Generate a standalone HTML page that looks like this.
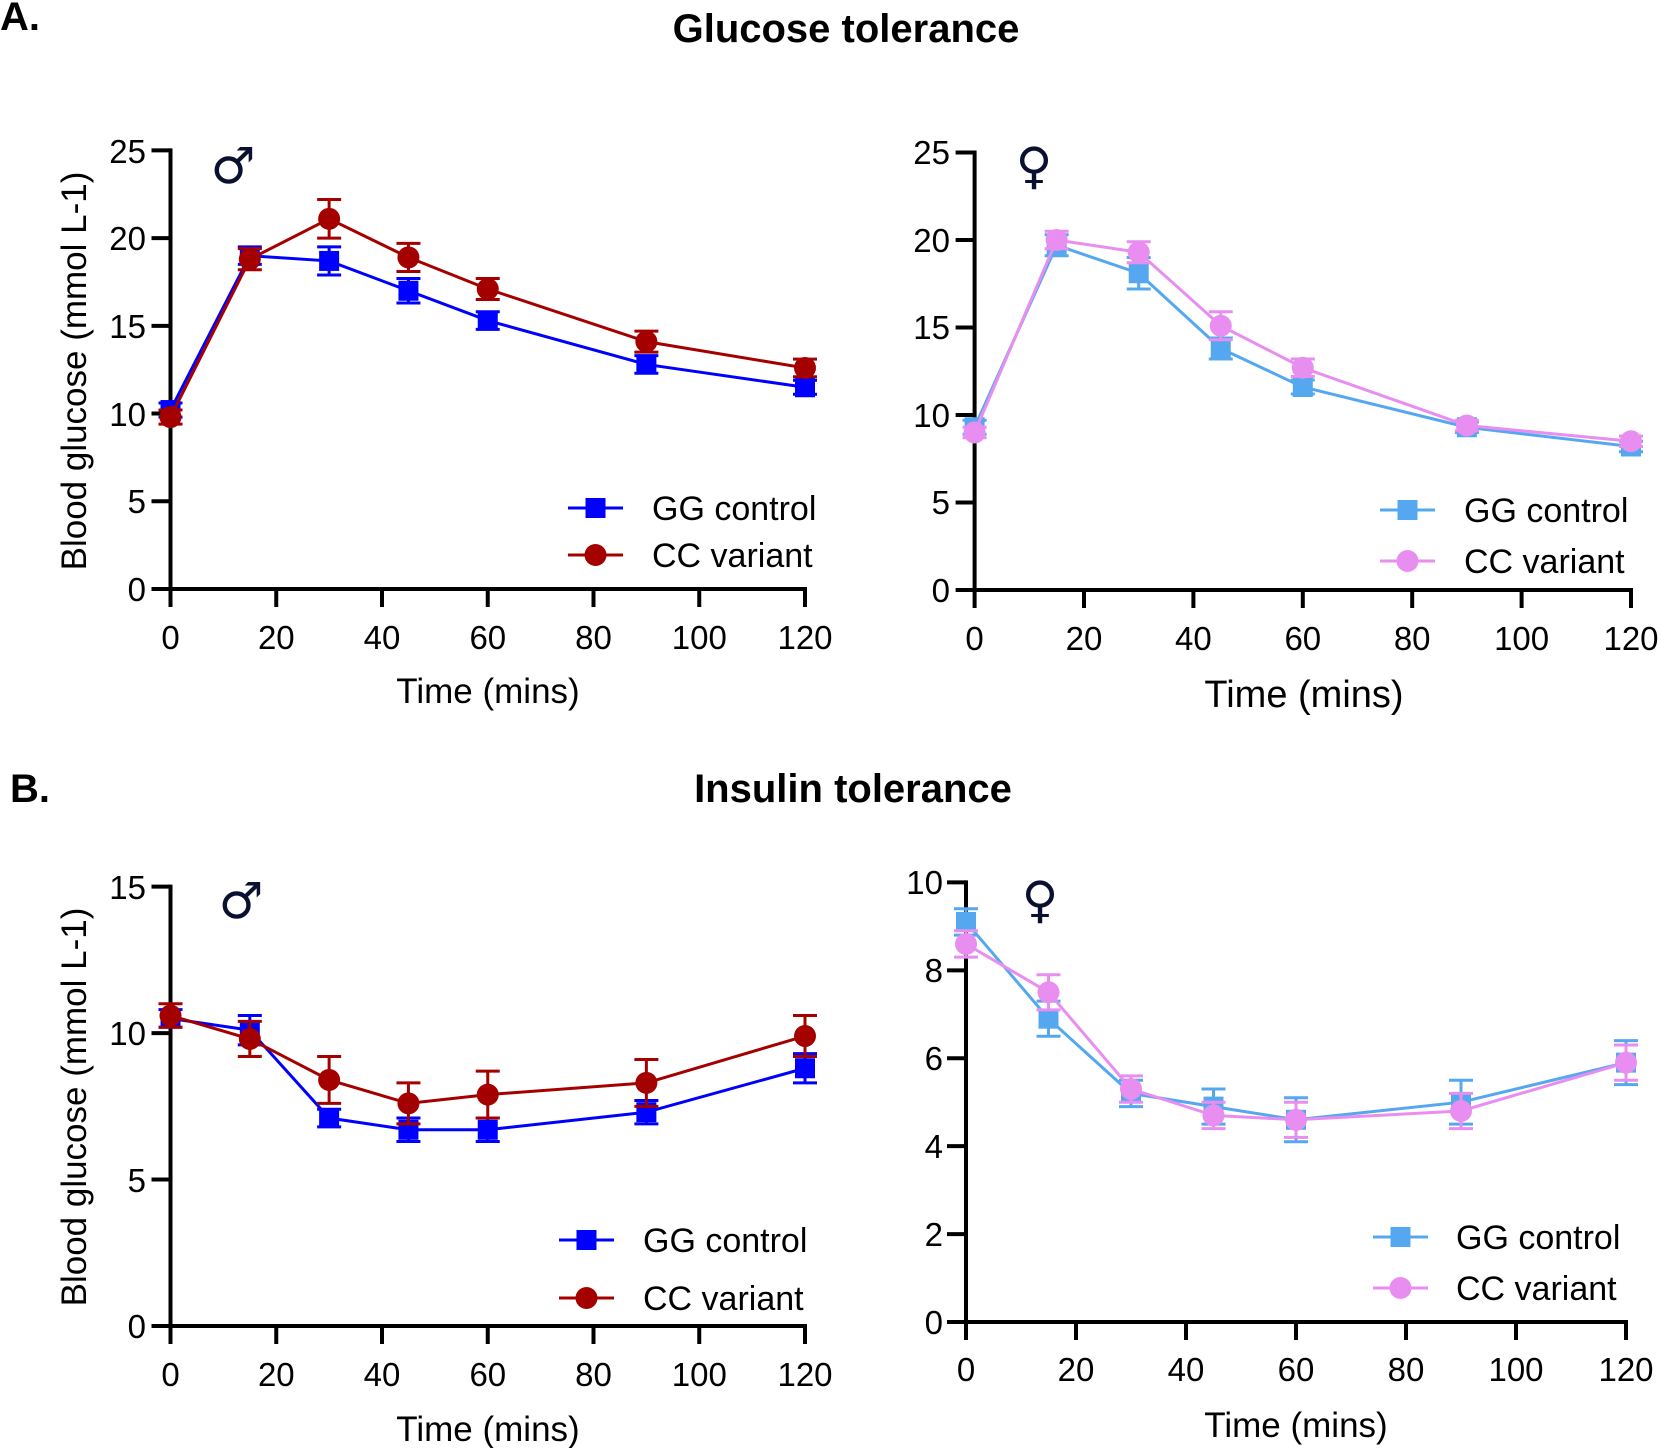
<!DOCTYPE html>
<html><head><meta charset="utf-8"><style>
html,body{margin:0;padding:0;background:#fff}
svg{display:block}
text{font-family:"Liberation Sans","DejaVu Sans",sans-serif;fill:#000}
.t{font-size:33px}
.ax{font-size:35px}
.lg{font-size:34px}
.h{font-size:40px;font-weight:bold}
</style></head><body>
<svg id="s" width="1661" height="1448" viewBox="0 0 1661 1448" xmlns="http://www.w3.org/2000/svg">
<text class="h" x="0" y="30">A.</text>
<text class="h" x="846" y="42" text-anchor="middle">Glucose tolerance</text>
<text class="h" x="10" y="802">B.</text>
<text class="h" x="853" y="802" text-anchor="middle">Insulin tolerance</text>

<text x="233" y="183" font-size="50" text-anchor="middle" style="fill:#0a1030;font-family:'DejaVu Sans',sans-serif">♂</text>
<text x="1034" y="183" font-size="50" text-anchor="middle" style="fill:#0a1030;font-family:'DejaVu Sans',sans-serif">♀</text>
<text x="241" y="918" font-size="50" text-anchor="middle" style="fill:#0a1030;font-family:'DejaVu Sans',sans-serif">♂</text>
<text x="1040" y="917" font-size="50" text-anchor="middle" style="fill:#0a1030;font-family:'DejaVu Sans',sans-serif">♀</text>

<g class="t" text-anchor="end">
<text x="146" y="601">0</text><text x="146" y="513">5</text><text x="146" y="426">10</text><text x="146" y="338">15</text><text x="146" y="250">20</text><text x="146" y="163">25</text>
</g>
<g class="t" text-anchor="middle">
<text x="170.5" y="649">0</text><text x="276.3" y="649">20</text><text x="382" y="649">40</text><text x="487.8" y="649">60</text><text x="593.5" y="649">80</text><text x="699.3" y="649">100</text><text x="805" y="649">120</text>
</g>
<text class="ax" x="488" y="703" text-anchor="middle">Time (mins)</text>
<text class="ax" transform="translate(86,371) rotate(-90)" text-anchor="middle">Blood glucose (mmol L-1)</text>
<text class="lg" x="652" y="520">GG control</text>
<text class="lg" x="652" y="567">CC variant</text>

<g class="t" text-anchor="end">
<text x="950" y="602">0</text><text x="950" y="514">5</text><text x="950" y="427">10</text><text x="950" y="339">15</text><text x="950" y="252">20</text><text x="950" y="164">25</text>
</g>
<g class="t" text-anchor="middle">
<text x="974.6" y="650">0</text><text x="1084" y="650">20</text><text x="1193.4" y="650">40</text><text x="1302.8" y="650">60</text><text x="1412.2" y="650">80</text><text x="1521.6" y="650">100</text><text x="1631" y="650">120</text>
</g>
<text class="ax" x="1304" y="707" text-anchor="middle" style="font-size:38px">Time (mins)</text>
<text class="lg" x="1464" y="522">GG control</text>
<text class="lg" x="1464" y="573">CC variant</text>

<g class="t" text-anchor="end">
<text x="146" y="1338">0</text><text x="146" y="1192">5</text><text x="146" y="1045">10</text><text x="146" y="899">15</text>
</g>
<g class="t" text-anchor="middle">
<text x="170.5" y="1386">0</text><text x="276.3" y="1386">20</text><text x="382" y="1386">40</text><text x="487.8" y="1386">60</text><text x="593.5" y="1386">80</text><text x="699.3" y="1386">100</text><text x="805" y="1386">120</text>
</g>
<text class="ax" x="488" y="1441" text-anchor="middle">Time (mins)</text>
<text class="ax" transform="translate(86,1107) rotate(-90)" text-anchor="middle">Blood glucose (mmol L-1)</text>
<text class="lg" x="643" y="1252">GG control</text>
<text class="lg" x="643" y="1310">CC variant</text>

<g class="t" text-anchor="end">
<text x="943" y="1334">0</text><text x="943" y="1246">2</text><text x="943" y="1158">4</text><text x="943" y="1070">6</text><text x="943" y="982">8</text><text x="943" y="894">10</text>
</g>
<g class="t" text-anchor="middle">
<text x="966" y="1381">0</text><text x="1076" y="1381">20</text><text x="1186" y="1381">40</text><text x="1296" y="1381">60</text><text x="1406" y="1381">80</text><text x="1516" y="1381">100</text><text x="1626" y="1381">120</text>
</g>
<text class="ax" x="1296" y="1437" text-anchor="middle">Time (mins)</text>
<text class="lg" x="1456" y="1249">GG control</text>
<text class="lg" x="1456" y="1300">CC variant</text>
<g id="g"></g>
</svg>
<script>
const NS="http://www.w3.org/2000/svg",G=document.getElementById('g');
function el(t,a){const e=document.createElementNS(NS,t);for(const k in a)e.setAttribute(k,a[k]);G.appendChild(e);return e;}
const T=[0,15,30,45,60,90,120];
function panel(p){
 const X=t=>p.x0+t*p.xs, Y=v=>p.y0-v*p.ys;
 el('line',{x1:p.x0,y1:Y(p.ymax)-2,x2:p.x0,y2:p.y0+2,stroke:'#000','stroke-width':4});
 el('line',{x1:p.x0-2,y1:p.y0,x2:X(120)+2,y2:p.y0,stroke:'#000','stroke-width':4});
 for(let v=0;v<=p.ymax+1e-9;v+=p.ystep)el('line',{x1:p.x0-19,y1:Y(v),x2:p.x0,y2:Y(v),stroke:'#000','stroke-width':4});
 for(let t=0;t<=120;t+=20)el('line',{x1:X(t),y1:p.y0,x2:X(t),y2:p.y0+18,stroke:'#000','stroke-width':4});
 p.series.forEach(s=>{
  el('polyline',{points:T.map((t,i)=>X(t)+','+Y(s.v[i])).join(' '),fill:'none',stroke:s.c,'stroke-width':3});
  T.forEach((t,i)=>{const x=X(t),y=Y(s.v[i]),e=s.e[i]*p.ys;
   el('line',{x1:x,y1:y-e,x2:x,y2:y+e,stroke:s.c,'stroke-width':3});
   el('line',{x1:x-12,y1:y-e,x2:x+12,y2:y-e,stroke:s.c,'stroke-width':3});
   el('line',{x1:x-12,y1:y+e,x2:x+12,y2:y+e,stroke:s.c,'stroke-width':3});
   if(s.m=='s')el('rect',{x:x-10,y:y-10,width:20,height:20,fill:s.c});else el('circle',{cx:x,cy:y,r:11,fill:s.c});
  });
 });
 p.leg.forEach((l,i)=>{const s=p.series[i];
  el('line',{x1:l[0],y1:l[1],x2:l[0]+55,y2:l[1],stroke:s.c,'stroke-width':3});
  const cx=l[0]+27.5;
  if(s.m=='s')el('rect',{x:cx-10,y:l[1]-10,width:20,height:20,fill:s.c});else el('circle',{cx:cx,cy:l[1],r:11,fill:s.c});
 });
}
const B='#0000ff',R='#a50000',LB='#55a8f0',PK='#e88ef0';
panel({x0:170.5,xs:5.2875,y0:589,ys:17.544,ymax:25,ystep:5,leg:[[568,508],[568,555]],series:[
 {c:B,m:'s',v:[10.2,19.0,18.7,17.0,15.3,12.8,11.5],e:[0.4,0.5,0.8,0.7,0.5,0.5,0.4]},
 {c:R,m:'c',v:[9.8,18.8,21.1,18.9,17.1,14.1,12.6],e:[0.4,0.6,1.1,0.8,0.6,0.6,0.5]}]});
panel({x0:974.6,xs:5.47,y0:590,ys:17.5,ymax:25,ystep:5,leg:[[1380,510],[1380,561]],series:[
 {c:LB,m:'s',v:[9.3,19.7,18.1,13.8,11.6,9.3,8.2],e:[0.4,0.6,0.9,0.6,0.4,0.3,0.3]},
 {c:PK,m:'c',v:[9.0,20.0,19.3,15.1,12.7,9.4,8.5],e:[0.3,0.5,0.6,0.8,0.5,0.3,0.3]}]});
panel({x0:170.5,xs:5.2875,y0:1326,ys:29.29,ymax:15,ystep:5,leg:[[559,1240],[559,1298]],series:[
 {c:B,m:'s',v:[10.5,10.1,7.1,6.7,6.7,7.3,8.8],e:[0.3,0.5,0.3,0.4,0.4,0.4,0.5]},
 {c:R,m:'c',v:[10.6,9.8,8.4,7.6,7.9,8.3,9.9],e:[0.4,0.6,0.8,0.7,0.8,0.8,0.7]}]});
panel({x0:966,xs:5.5,y0:1322,ys:43.96,ymax:10,ystep:2,leg:[[1373,1237],[1373,1288]],series:[
 {c:LB,m:'s',v:[9.1,6.9,5.2,4.9,4.6,5.0,5.9],e:[0.3,0.4,0.3,0.4,0.5,0.5,0.5]},
 {c:PK,m:'c',v:[8.6,7.5,5.3,4.7,4.6,4.8,5.9],e:[0.3,0.4,0.3,0.3,0.4,0.4,0.4]}]});
</script>
</body></html>
